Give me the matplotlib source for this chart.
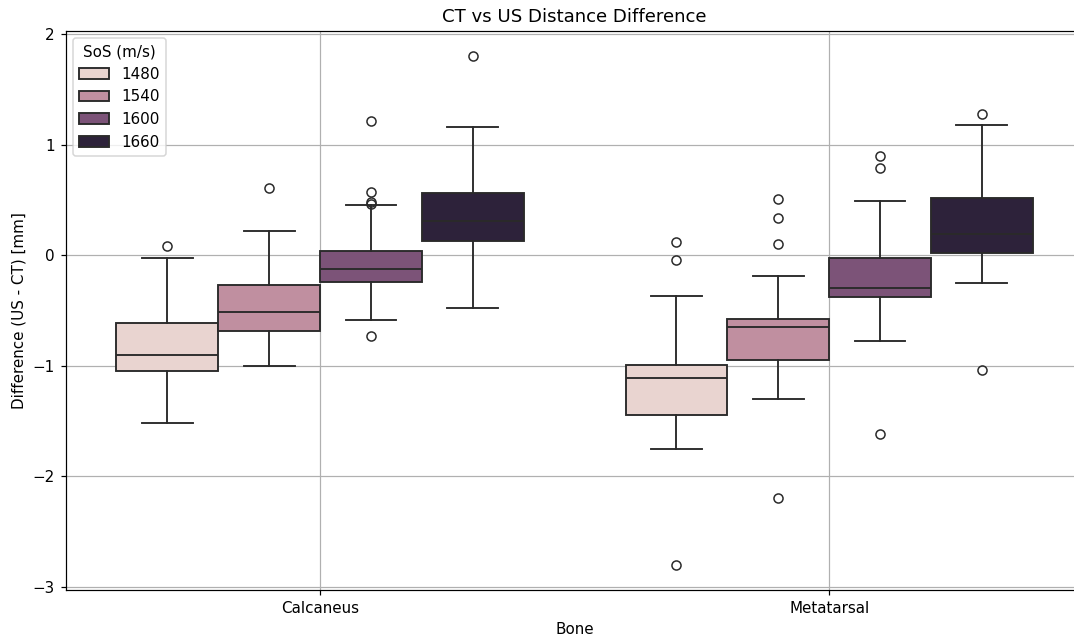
import matplotlib
matplotlib.use("Agg")
import numpy as np
import matplotlib.pyplot as plt
import seaborn as sns
from matplotlib.patches import Patch

# values
bones = ["Calcaneus", "Metatarsal"]
sos = [1480, 1540, 1600, 1660]

# per bone, per SoS
med = [[-0.90, -0.51, -0.13, 0.31],
       [-1.11, -0.65, -0.30, 0.19]]
q1 = [[-1.05, -0.69, -0.24, 0.13],
      [-1.45, -0.95, -0.38, 0.02]]
q3 = [[-0.61, -0.27, 0.04, 0.56],
      [-0.99, -0.58, -0.03, 0.52]]
whislo = [[-1.52, -1.00, -0.59, -0.48],
          [-1.75, -1.30, -0.78, -0.25]]
whishi = [[-0.03, 0.22, 0.45, 1.16],
          [-0.37, -0.19, 0.49, 1.18]]
fliers = [[[0.08], [0.61], [1.21, 0.57, 0.48, 0.46, -0.73], [1.80]],
          [[0.12, -0.04, -2.80], [0.51, 0.34, 0.10, -2.20], [0.90, 0.79, -1.62], [1.28, -1.04]]]

cmap = sns.cubehelix_palette(as_cmap=True)
colors = [sns.desaturate(c, 0.75) for c in cmap(np.linspace(0, 1, len(sos)))]
linecolor = "#2a2a2a"

dpi = 109
fig = plt.figure(figsize=(1074 / dpi, 640 / dpi), dpi=dpi)
ax = fig.add_axes([0.061, 0.078, 0.948, 0.874])

width = 0.8 / len(sos)
for b in range(len(bones)):
    for h in range(len(sos)):
        stats = [dict(med=med[b][h], q1=q1[b][h], q3=q3[b][h],
                      whislo=whislo[b][h], whishi=whishi[b][h],
                      fliers=fliers[b][h])]
        pos = b - 0.4 + width * (h + 0.5)
        ax.bxp(stats, positions=[pos], widths=width * 0.999, capwidths=width / 2,
               patch_artist=True, manage_ticks=False,
               boxprops=dict(facecolor=colors[h], edgecolor=linecolor, linewidth=1.25),
               medianprops=dict(color=linecolor, linewidth=1.25),
               whiskerprops=dict(color=linecolor, linewidth=1.25),
               capprops=dict(color=linecolor, linewidth=1.25),
               flierprops=dict(marker="o", markerfacecolor="none",
                               markeredgecolor=linecolor, markersize=6, linewidth=0))

ax.set_xlim(-0.5, 1.5)
ax.set_xticks(range(len(bones)))
ax.set_xticklabels(bones)
ax.set_ylim(-3.03, 2.03)
ax.grid(True)
ax.set_xlabel("Bone")
ax.set_ylabel("Difference (US - CT) [mm]")
ax.set_title("CT vs US Distance Difference")

handles = [Patch(facecolor=colors[i], edgecolor=linecolor, linewidth=1.25, label=str(s))
           for i, s in enumerate(sos)]
ax.legend(handles=handles, title="SoS (m/s)", loc="upper left")

fig.savefig("out.png", dpi=dpi)
